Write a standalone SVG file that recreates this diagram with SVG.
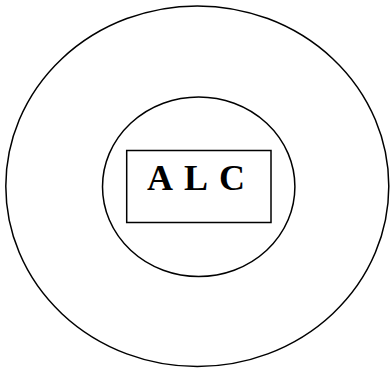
<svg xmlns="http://www.w3.org/2000/svg" width="390" height="369" viewBox="0 0 390 369">
<style>
.shape{fill:none;stroke:#000;stroke-width:1.5}
.label{font-family:"Liberation Serif","Times New Roman",serif;font-weight:bold;font-size:36px;word-spacing:4px;fill:#000;text-anchor:middle}
</style>
<rect width="390" height="369" fill="#fff"/>
<g id="outer"><ellipse class="shape" cx="197.3" cy="186.2" rx="191.5" ry="180.3"/></g>
<g id="inner"><ellipse class="shape" cx="198.7" cy="186.7" rx="96.2" ry="89.8"/></g>
<g id="alc">
<rect class="shape" x="126.7" y="150.5" width="144.3" height="72"/>
<text class="label" x="196" y="190">A L C</text>
</g>
<g id="connectors"/>
</svg>
